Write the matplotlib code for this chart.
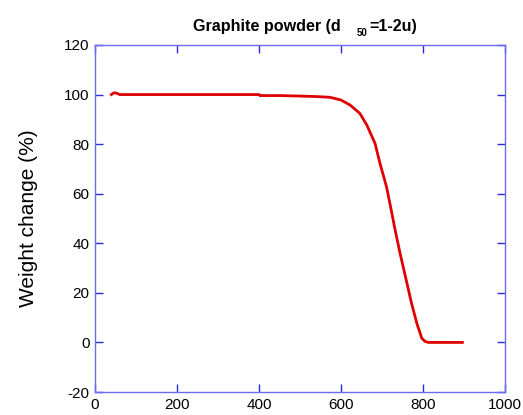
import matplotlib
matplotlib.use("Agg")
import matplotlib.pyplot as plt

temperature = [40, 45, 50, 55, 60, 100, 200, 300, 400, 402, 450, 500, 540, 573, 600, 622,
               646, 663, 683, 695, 711, 720, 732, 744, 759, 772, 785, 797, 805, 813, 850, 896]
weight = [100.0, 100.6, 100.7, 100.4, 100.0, 100.0, 100.0, 100.0, 100.0, 99.6, 99.6, 99.4, 99.2, 98.9, 97.8, 95.8,
          92.4, 87.7, 80.3, 72.3, 62.8, 55.5, 45.4, 36.0, 25.2, 15.8, 7.7, 1.7, 0.4, 0.0, 0.0, 0.0]

xticks = [0, 200, 400, 600, 800, 1000]
yticks = [-20, 0, 20, 40, 60, 80, 100, 120]

plt.rcParams['font.family'] = ['Liberation Sans', 'DejaVu Sans']
plt.rcParams['axes.unicode_minus'] = False
W, H = 523, 415
fig = plt.figure(figsize=(W / 100, H / 100), dpi=100)
ax = fig.add_axes([95 / W, 1 - 392 / H, 410 / W, 347 / H])
ax.plot(temperature, weight, color='#e00000', lw=2.0)
ax.set_xlim(0, 1000)
ax.set_ylim(-20, 120)
ax.set_xticks(xticks)
ax.set_yticks(yticks)
spine_c = '#6b6bf0'
for s in ax.spines.values():
    s.set_color(spine_c)
    s.set_linewidth(1.0)
ax.tick_params(direction='in', length=6, color='#2a2ae0', width=1.0,
               top=True, right=True, labelsize=11, pad=4)
ax.set_ylabel('Weight change (%)', fontsize=15)
ax.yaxis.set_label_coords(-0.14, 0.5)

# title pieces
fig.text(193 / W, 1 - 31 / H, 'Graphite powder (d', fontsize=11.6, fontweight='bold', va='baseline', ha='left')
fig.text(357 / W, 1 - 36 / H, '50', fontsize=7, fontweight='bold', va='baseline', ha='left')
fig.text(369 / W, 1 - 31 / H, '=1-2u)', fontsize=11.6, fontweight='bold', va='baseline', ha='left')
fig.savefig('out.png', dpi=100)
